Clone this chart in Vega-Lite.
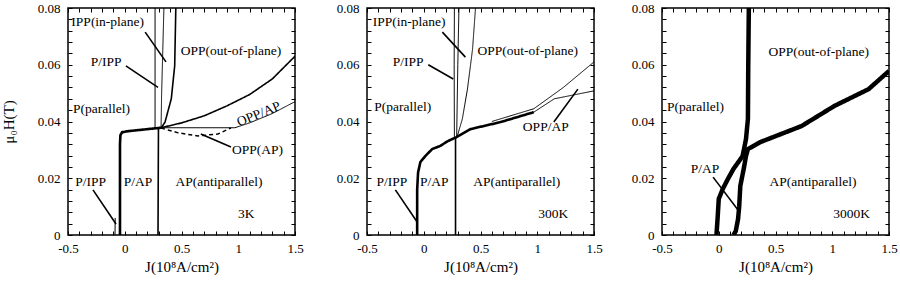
{
  "$schema": "https://vega.github.io/schema/vega-lite/v6.json",
  "background": "white",
  "padding": {"left": 0, "top": 1, "right": 0, "bottom": 0},
  "config": {
    "font": "Liberation Serif, DejaVu Serif, serif",
    "view": {"stroke": "black", "strokeWidth": 1.5},
    "text": {"font": "Liberation Serif, DejaVu Serif, serif"},
    "axis": {"labelFont": "Liberation Serif, DejaVu Serif, serif", "titleFont": "Liberation Serif, DejaVu Serif, serif", "labelColor": "black", "tickColor": "black", "titleColor": "black", "titleFontWeight": "normal", "labelOverlap": false, "labelFlush": false, "grid": false, "domain": false}
  },
  "spacing": 31,
  "datasets": {
    "lines": [
      {"p": 1, "s": "1p", "k": "thin", "J": -0.086, "H": 0},
      {"p": 1, "s": "1p", "k": "thin", "J": -0.084, "H": 0.006},
      {"p": 1, "s": "1t", "k": "thick", "J": -0.042, "H": 0},
      {"p": 1, "s": "1t", "k": "thick", "J": -0.042, "H": 0.032},
      {"p": 1, "s": "1t", "k": "thick", "J": -0.038, "H": 0.0352},
      {"p": 1, "s": "1t", "k": "thick", "J": -0.024, "H": 0.0362},
      {"p": 1, "s": "1t", "k": "thick", "J": 0.03, "H": 0.0366},
      {"p": 1, "s": "1t", "k": "thick", "J": 0.15, "H": 0.0371},
      {"p": 1, "s": "1t", "k": "thick", "J": 0.32, "H": 0.0378},
      {"p": 1, "s": "1ap", "k": "mid", "J": 0.293, "H": 0},
      {"p": 1, "s": "1ap", "k": "mid", "J": 0.297, "H": 0.0377},
      {"p": 1, "s": "1pi", "k": "thin", "J": 0.267, "H": 0.0377},
      {"p": 1, "s": "1pi", "k": "thin", "J": 0.267, "H": 0.08},
      {"p": 1, "s": "1ip", "k": "thin", "J": 0.32, "H": 0.0378},
      {"p": 1, "s": "1ip", "k": "thin", "J": 0.325, "H": 0.05},
      {"p": 1, "s": "1ip", "k": "thin", "J": 0.335, "H": 0.065},
      {"p": 1, "s": "1ip", "k": "thin", "J": 0.345, "H": 0.08},
      {"p": 1, "s": "1op", "k": "mid", "J": 0.32, "H": 0.0377},
      {"p": 1, "s": "1op", "k": "mid", "J": 0.355, "H": 0.0398},
      {"p": 1, "s": "1op", "k": "mid", "J": 0.41, "H": 0.048},
      {"p": 1, "s": "1op", "k": "mid", "J": 0.44, "H": 0.0596},
      {"p": 1, "s": "1op", "k": "mid", "J": 0.45, "H": 0.08},
      {"p": 1, "s": "1u", "k": "mid", "J": 0.32, "H": 0.0378},
      {"p": 1, "s": "1u", "k": "mid", "J": 0.5, "H": 0.0395},
      {"p": 1, "s": "1u", "k": "mid", "J": 0.7, "H": 0.042},
      {"p": 1, "s": "1u", "k": "mid", "J": 0.9, "H": 0.0455},
      {"p": 1, "s": "1u", "k": "mid", "J": 1.1, "H": 0.0495},
      {"p": 1, "s": "1u", "k": "mid", "J": 1.3, "H": 0.055},
      {"p": 1, "s": "1u", "k": "mid", "J": 1.5, "H": 0.063},
      {"p": 1, "s": "1l", "k": "thin", "J": 0.32, "H": 0.0378},
      {"p": 1, "s": "1l", "k": "thin", "J": 0.97, "H": 0.0378},
      {"p": 1, "s": "1l", "k": "thin", "J": 1.1, "H": 0.0395},
      {"p": 1, "s": "1l", "k": "thin", "J": 1.3, "H": 0.0428},
      {"p": 1, "s": "1l", "k": "thin", "J": 1.5, "H": 0.047},
      {"p": 1, "s": "1d", "k": "dash", "J": 0.32, "H": 0.0377},
      {"p": 1, "s": "1d", "k": "dash", "J": 0.47, "H": 0.036},
      {"p": 1, "s": "1d", "k": "dash", "J": 0.645, "H": 0.0349},
      {"p": 1, "s": "1d", "k": "dash", "J": 0.82, "H": 0.0356},
      {"p": 1, "s": "1d", "k": "dash", "J": 0.936, "H": 0.0377},
      {"p": 2, "s": "2t", "k": "thick", "J": -0.058, "H": 0},
      {"p": 2, "s": "2t", "k": "thick", "J": -0.058, "H": 0.016},
      {"p": 2, "s": "2t", "k": "thick", "J": -0.05, "H": 0.022},
      {"p": 2, "s": "2t", "k": "thick", "J": -0.03, "H": 0.0257},
      {"p": 2, "s": "2t", "k": "thick", "J": 0.013, "H": 0.0278},
      {"p": 2, "s": "2t", "k": "thick", "J": 0.075, "H": 0.0303},
      {"p": 2, "s": "2t", "k": "thick", "J": 0.146, "H": 0.0314},
      {"p": 2, "s": "2t", "k": "thick", "J": 0.208, "H": 0.033},
      {"p": 2, "s": "2t", "k": "thick", "J": 0.288, "H": 0.0345},
      {"p": 2, "s": "2t", "k": "thick", "J": 0.41, "H": 0.0373},
      {"p": 2, "s": "2t", "k": "thick", "J": 0.677, "H": 0.0398},
      {"p": 2, "s": "2t", "k": "thick", "J": 0.97, "H": 0.0433},
      {"p": 2, "s": "2u", "k": "thin", "J": 0.6, "H": 0.040},
      {"p": 2, "s": "2u", "k": "thin", "J": 0.97, "H": 0.0445},
      {"p": 2, "s": "2u", "k": "thin", "J": 1.23, "H": 0.052},
      {"p": 2, "s": "2u", "k": "thin", "J": 1.5, "H": 0.061},
      {"p": 2, "s": "2l", "k": "thin", "J": 0.97, "H": 0.0433},
      {"p": 2, "s": "2l", "k": "thin", "J": 1.15, "H": 0.048},
      {"p": 2, "s": "2l", "k": "thin", "J": 1.5, "H": 0.0508},
      {"p": 2, "s": "2ap", "k": "mid", "J": 0.28, "H": 0},
      {"p": 2, "s": "2ap", "k": "mid", "J": 0.28, "H": 0.0345},
      {"p": 2, "s": "2pi", "k": "thin", "J": 0.27, "H": 0.0345},
      {"p": 2, "s": "2pi", "k": "thin", "J": 0.268, "H": 0.06},
      {"p": 2, "s": "2pi", "k": "thin", "J": 0.27, "H": 0.08},
      {"p": 2, "s": "2ip", "k": "thin", "J": 0.29, "H": 0.0345},
      {"p": 2, "s": "2ip", "k": "thin", "J": 0.30, "H": 0.06},
      {"p": 2, "s": "2ip", "k": "thin", "J": 0.31, "H": 0.08},
      {"p": 2, "s": "2op", "k": "thin", "J": 0.296, "H": 0.0349},
      {"p": 2, "s": "2op", "k": "thin", "J": 0.34, "H": 0.0409},
      {"p": 2, "s": "2op", "k": "thin", "J": 0.385, "H": 0.0514},
      {"p": 2, "s": "2op", "k": "thin", "J": 0.43, "H": 0.0655},
      {"p": 2, "s": "2op", "k": "thin", "J": 0.456, "H": 0.08},
      {"p": 3, "s": "3a", "k": "band", "J": -0.02, "H": 0},
      {"p": 3, "s": "3a", "k": "band", "J": -0.01, "H": 0.006},
      {"p": 3, "s": "3a", "k": "band", "J": 0, "H": 0.0127},
      {"p": 3, "s": "3a", "k": "band", "J": 0.035, "H": 0.0162},
      {"p": 3, "s": "3a", "k": "band", "J": 0.08, "H": 0.0197},
      {"p": 3, "s": "3a", "k": "band", "J": 0.13, "H": 0.0233},
      {"p": 3, "s": "3a", "k": "band", "J": 0.21, "H": 0.0278},
      {"p": 3, "s": "3a", "k": "band", "J": 0.24, "H": 0.0338},
      {"p": 3, "s": "3a", "k": "band", "J": 0.257, "H": 0.0409},
      {"p": 3, "s": "3a", "k": "band", "J": 0.26, "H": 0.06},
      {"p": 3, "s": "3a", "k": "band", "J": 0.265, "H": 0.08},
      {"p": 3, "s": "3b", "k": "band", "J": 0.13, "H": 0},
      {"p": 3, "s": "3b", "k": "band", "J": 0.15, "H": 0.0014},
      {"p": 3, "s": "3b", "k": "band", "J": 0.17, "H": 0.0056},
      {"p": 3, "s": "3b", "k": "band", "J": 0.18, "H": 0.010},
      {"p": 3, "s": "3b", "k": "band", "J": 0.19, "H": 0.0173},
      {"p": 3, "s": "3b", "k": "band", "J": 0.22, "H": 0.0233},
      {"p": 3, "s": "3b", "k": "band", "J": 0.24, "H": 0.0278},
      {"p": 3, "s": "3b", "k": "band", "J": 0.257, "H": 0.0303},
      {"p": 3, "s": "3b", "k": "band", "J": 0.37, "H": 0.0328},
      {"p": 3, "s": "3b", "k": "band", "J": 0.73, "H": 0.0384},
      {"p": 3, "s": "3b", "k": "band", "J": 1.02, "H": 0.0455},
      {"p": 3, "s": "3b", "k": "band", "J": 1.32, "H": 0.0514},
      {"p": 3, "s": "3b", "k": "band", "J": 1.5, "H": 0.0578}
    ],
    "labels": [
      {"p": 1, "t": "IPP(in-plane)", "J": -0.15, "H": 0.075},
      {"p": 1, "t": "P/IPP", "J": -0.165, "H": 0.061},
      {"p": 1, "t": "OPP(out-of-plane)", "J": 0.936, "H": 0.065},
      {"p": 1, "t": "P(parallel)", "J": -0.205, "H": 0.0444},
      {"p": 1, "t": "OPP(AP)", "J": 1.17, "H": 0.030},
      {"p": 1, "t": "P/IPP", "J": -0.3, "H": 0.0187},
      {"p": 1, "t": "P/AP", "J": 0.117, "H": 0.0187},
      {"p": 1, "t": "AP(antiparallel)", "J": 0.83, "H": 0.0187},
      {"p": 1, "t": "3K", "J": 1.07, "H": 0.0074},
      {"p": 2, "t": "IPP(in-plane)", "J": -0.128, "H": 0.075},
      {"p": 2, "t": "OPP(out-of-plane)", "J": 0.916, "H": 0.065},
      {"p": 2, "t": "P/IPP", "J": -0.137, "H": 0.061},
      {"p": 2, "t": "P(parallel)", "J": -0.186, "H": 0.045},
      {"p": 2, "t": "OPP/AP", "J": 1.075, "H": 0.038},
      {"p": 2, "t": "P/IPP", "J": -0.28, "H": 0.0187},
      {"p": 2, "t": "P/AP", "J": 0.093, "H": 0.0187},
      {"p": 2, "t": "AP(antiparallel)", "J": 0.82, "H": 0.0187},
      {"p": 2, "t": "300K", "J": 1.14, "H": 0.0074},
      {"p": 3, "t": "OPP(out-of-plane)", "J": 0.88, "H": 0.0645},
      {"p": 3, "t": "P(parallel)", "J": -0.204, "H": 0.045},
      {"p": 3, "t": "P/AP", "J": -0.12, "H": 0.0233},
      {"p": 3, "t": "AP(antiparallel)", "J": 0.83, "H": 0.0187},
      {"p": 3, "t": "3000K", "J": 1.17, "H": 0.0074}
    ],
    "tilted": [
      {"p": 1, "t": "OPP/AP", "J": 1.18, "H": 0.0426}
    ],
    "arrows": [
      {"p": 1, "J": 0.18, "H": 0.0715, "J2": 0.363, "H2": 0.061},
      {"p": 1, "J": 0.01, "H": 0.0596, "J2": 0.293, "H2": 0.052},
      {"p": 1, "J": 0.936, "H": 0.031, "J2": 0.67, "H2": 0.0356},
      {"p": 1, "J": -0.28, "H": 0.0159, "J2": -0.077, "H2": 0.0039},
      {"p": 2, "J": 0.164, "H": 0.0715, "J2": 0.367, "H2": 0.0627},
      {"p": 2, "J": 0.04, "H": 0.06, "J2": 0.26, "H2": 0.055},
      {"p": 2, "J": 1.146, "H": 0.0398, "J2": 1.358, "H2": 0.0514},
      {"p": 2, "J": -0.25, "H": 0.0159, "J2": -0.058, "H2": 0.0046},
      {"p": 3, "J": -0.05, "H": 0.0204, "J2": 0.17, "H2": 0.0088}
    ]
  },
  "hconcat": [
    {
      "width": 227, "height": 227,
      "resolve": {"axis": {"x": "independent", "y": "independent"}},
      "layer": [
        {
          "data": {"name": "lines"},
          "transform": [{"filter": "datum.p == 1"}],
          "mark": {"type": "line", "color": "black", "clip": true},
          "encoding": {
            "x": {"field": "J", "type": "quantitative", "scale": {"domain": [-0.5, 1.5], "nice": false, "zero": false},
              "axis": {"orient": "bottom", "values": [-0.5,-0.4,-0.3,-0.2,-0.1,0,0.1,0.2,0.3,0.4,0.5,0.6,0.7,0.8,0.9,1,1.1,1.2,1.3,1.4,1.5], "labelExpr": "abs(datum.value*2-round(datum.value*2))<0.001 ? (datum.value<0 ? '-' + format(-datum.value,'~g') : format(datum.value,'~g')) : ''", "tickSize": -4, "labelPadding": 11, "labelFontSize": 13, "title": "J(10⁸A/cm²)", "titleFontSize": 15, "titlePadding": 4}},
            "y": {"field": "H", "type": "quantitative", "scale": {"domain": [0, 0.08], "nice": false},
              "axis": {"orient": "left", "values": [0,0.004,0.008,0.012,0.016,0.02,0.024,0.028,0.032,0.036,0.04,0.044,0.048,0.052,0.056,0.06,0.064,0.068,0.072,0.076,0.08], "labelExpr": "abs(datum.value*50-round(datum.value*50))<0.001 ? (datum.value==0 ? '0' : format(datum.value,'.2f')) : ''", "tickSize": -4, "labelPadding": 12, "labelFontSize": 13, "title": "μ₀H(T)", "titleFontSize": 15, "titlePadding": 21}},
            "detail": {"field": "s"},
            "strokeWidth": {"field": "k", "type": "nominal", "scale": {"type": "ordinal", "domain": ["thin", "mid", "thick", "band", "dash"], "range": [1, 1.6, 2.6, 4.5, 1.5]}, "legend": null},
            "strokeDash": {"field": "k", "type": "nominal", "scale": {"domain": ["thin", "mid", "thick", "band", "dash"], "range": [[1, 0], [1, 0], [1, 0], [1, 0], [4, 3]]}, "legend": null},
            "order": {"value": null}
          }
        },
        {
          "data": {"name": "labels"},
          "transform": [{"filter": "datum.p == 1"}],
          "mark": {"type": "text", "fontSize": 13.5, "baseline": "middle", "align": "center", "color": "black"},
          "encoding": {
            "x": {"field": "J", "type": "quantitative", "scale": {"domain": [-0.5, 1.5], "nice": false, "zero": false},
              "axis": {"orient": "top", "values": [-0.5,-0.4,-0.3,-0.2,-0.1,0,0.1,0.2,0.3,0.4,0.5,0.6,0.7,0.8,0.9,1,1.1,1.2,1.3,1.4,1.5], "labels": false, "tickSize": -4, "title": null}},
            "y": {"field": "H", "type": "quantitative", "scale": {"domain": [0, 0.08], "nice": false},
              "axis": {"orient": "right", "values": [0,0.004,0.008,0.012,0.016,0.02,0.024,0.028,0.032,0.036,0.04,0.044,0.048,0.052,0.056,0.06,0.064,0.068,0.072,0.076,0.08], "labels": false, "tickSize": -4, "title": null}},
            "text": {"field": "t"}
          }
        },
        {
          "data": {"name": "tilted"},
          "transform": [{"filter": "datum.p == 1"}],
          "mark": {"type": "text", "fontSize": 13.5, "baseline": "middle", "align": "center", "angle": 338, "color": "black"},
          "encoding": {
            "x": {"field": "J", "type": "quantitative", "scale": {"domain": [-0.5, 1.5], "nice": false, "zero": false}, "axis": null},
            "y": {"field": "H", "type": "quantitative", "scale": {"domain": [0, 0.08], "nice": false}, "axis": null},
            "text": {"field": "t"}
          }
        },
        {
          "data": {"name": "arrows"},
          "transform": [{"filter": "datum.p == 1"}],
          "mark": {"type": "rule", "color": "black", "strokeWidth": 1.6},
          "encoding": {
            "x": {"field": "J", "type": "quantitative", "scale": {"domain": [-0.5, 1.5], "nice": false, "zero": false}, "axis": null},
            "y": {"field": "H", "type": "quantitative", "scale": {"domain": [0, 0.08], "nice": false}, "axis": null},
            "x2": {"field": "J2"},
            "y2": {"field": "H2"}
          }
        }
      ]
    },
    {
      "spacing": 27,
      "hconcat": [
        {
          "width": 227, "height": 227,
          "resolve": {"axis": {"x": "independent", "y": "independent"}},
          "layer": [
            {
              "data": {"name": "lines"},
              "transform": [{"filter": "datum.p == 2"}],
              "mark": {"type": "line", "color": "black", "clip": true},
              "encoding": {
                "x": {"field": "J", "type": "quantitative", "scale": {"domain": [-0.5, 1.5], "nice": false, "zero": false},
                  "axis": {"orient": "bottom", "values": [-0.5,-0.4,-0.3,-0.2,-0.1,0,0.1,0.2,0.3,0.4,0.5,0.6,0.7,0.8,0.9,1,1.1,1.2,1.3,1.4,1.5], "labelExpr": "abs(datum.value*2-round(datum.value*2))<0.001 ? (datum.value<0 ? '-' + format(-datum.value,'~g') : format(datum.value,'~g')) : ''", "tickSize": -4, "labelPadding": 11, "labelFontSize": 13, "title": "J(10⁸A/cm²)", "titleFontSize": 15, "titlePadding": 4}},
                "y": {"field": "H", "type": "quantitative", "scale": {"domain": [0, 0.08], "nice": false},
                  "axis": {"orient": "left", "values": [0,0.004,0.008,0.012,0.016,0.02,0.024,0.028,0.032,0.036,0.04,0.044,0.048,0.052,0.056,0.06,0.064,0.068,0.072,0.076,0.08], "labelExpr": "abs(datum.value*50-round(datum.value*50))<0.001 ? (datum.value==0 ? '0' : format(datum.value,'.2f')) : ''", "tickSize": -4, "labelPadding": 12, "labelFontSize": 13, "title": null}},
                "detail": {"field": "s"},
                "strokeWidth": {"field": "k", "type": "nominal", "scale": {"type": "ordinal", "domain": ["thin", "mid", "thick", "band", "dash"], "range": [1, 1.6, 2.6, 4.5, 1.5]}, "legend": null},
                "strokeDash": {"field": "k", "type": "nominal", "scale": {"domain": ["thin", "mid", "thick", "band", "dash"], "range": [[1, 0], [1, 0], [1, 0], [1, 0], [4, 3]]}, "legend": null},
                "order": {"value": null}
              }
            },
            {
              "data": {"name": "labels"},
              "transform": [{"filter": "datum.p == 2"}],
              "mark": {"type": "text", "fontSize": 13.5, "baseline": "middle", "align": "center", "color": "black"},
              "encoding": {
                "x": {"field": "J", "type": "quantitative", "scale": {"domain": [-0.5, 1.5], "nice": false, "zero": false},
                  "axis": {"orient": "top", "values": [-0.5,-0.4,-0.3,-0.2,-0.1,0,0.1,0.2,0.3,0.4,0.5,0.6,0.7,0.8,0.9,1,1.1,1.2,1.3,1.4,1.5], "labels": false, "tickSize": -4, "title": null}},
                "y": {"field": "H", "type": "quantitative", "scale": {"domain": [0, 0.08], "nice": false},
                  "axis": {"orient": "right", "values": [0,0.004,0.008,0.012,0.016,0.02,0.024,0.028,0.032,0.036,0.04,0.044,0.048,0.052,0.056,0.06,0.064,0.068,0.072,0.076,0.08], "labels": false, "tickSize": -4, "title": null}},
                "text": {"field": "t"}
              }
            },
            {
              "data": {"name": "arrows"},
              "transform": [{"filter": "datum.p == 2"}],
              "mark": {"type": "rule", "color": "black", "strokeWidth": 1.6},
              "encoding": {
                "x": {"field": "J", "type": "quantitative", "scale": {"domain": [-0.5, 1.5], "nice": false, "zero": false}, "axis": null},
                "y": {"field": "H", "type": "quantitative", "scale": {"domain": [0, 0.08], "nice": false}, "axis": null},
                "x2": {"field": "J2"},
                "y2": {"field": "H2"}
              }
            }
          ]
        },
        {
          "width": 227, "height": 227,
          "resolve": {"axis": {"x": "independent", "y": "independent"}},
          "layer": [
            {
              "data": {"name": "lines"},
              "transform": [{"filter": "datum.p == 3"}],
              "mark": {"type": "line", "color": "black", "clip": true},
              "encoding": {
                "x": {"field": "J", "type": "quantitative", "scale": {"domain": [-0.5, 1.5], "nice": false, "zero": false},
                  "axis": {"orient": "bottom", "values": [-0.5,-0.4,-0.3,-0.2,-0.1,0,0.1,0.2,0.3,0.4,0.5,0.6,0.7,0.8,0.9,1,1.1,1.2,1.3,1.4,1.5], "labelExpr": "abs(datum.value*2-round(datum.value*2))<0.001 ? (datum.value<0 ? '-' + format(-datum.value,'~g') : format(datum.value,'~g')) : ''", "tickSize": -4, "labelPadding": 11, "labelFontSize": 13, "title": "J(10⁸A/cm²)", "titleFontSize": 15, "titlePadding": 4}},
                "y": {"field": "H", "type": "quantitative", "scale": {"domain": [0, 0.08], "nice": false},
                  "axis": {"orient": "left", "values": [0,0.004,0.008,0.012,0.016,0.02,0.024,0.028,0.032,0.036,0.04,0.044,0.048,0.052,0.056,0.06,0.064,0.068,0.072,0.076,0.08], "labelExpr": "abs(datum.value*50-round(datum.value*50))<0.001 ? (datum.value==0 ? '0' : format(datum.value,'.2f')) : ''", "tickSize": -4, "labelPadding": 12, "labelFontSize": 13, "title": null}},
                "detail": {"field": "s"},
                "strokeWidth": {"field": "k", "type": "nominal", "scale": {"type": "ordinal", "domain": ["thin", "mid", "thick", "band", "dash"], "range": [1, 1.6, 2.6, 4.5, 1.5]}, "legend": null},
                "strokeDash": {"field": "k", "type": "nominal", "scale": {"domain": ["thin", "mid", "thick", "band", "dash"], "range": [[1, 0], [1, 0], [1, 0], [1, 0], [4, 3]]}, "legend": null},
                "order": {"value": null}
              }
            },
            {
              "data": {"name": "labels"},
              "transform": [{"filter": "datum.p == 3"}],
              "mark": {"type": "text", "fontSize": 13.5, "baseline": "middle", "align": "center", "color": "black"},
              "encoding": {
                "x": {"field": "J", "type": "quantitative", "scale": {"domain": [-0.5, 1.5], "nice": false, "zero": false},
                  "axis": {"orient": "top", "values": [-0.5,-0.4,-0.3,-0.2,-0.1,0,0.1,0.2,0.3,0.4,0.5,0.6,0.7,0.8,0.9,1,1.1,1.2,1.3,1.4,1.5], "labels": false, "tickSize": -4, "title": null}},
                "y": {"field": "H", "type": "quantitative", "scale": {"domain": [0, 0.08], "nice": false},
                  "axis": {"orient": "right", "values": [0,0.004,0.008,0.012,0.016,0.02,0.024,0.028,0.032,0.036,0.04,0.044,0.048,0.052,0.056,0.06,0.064,0.068,0.072,0.076,0.08], "labels": false, "tickSize": -4, "title": null}},
                "text": {"field": "t"}
              }
            },
            {
              "data": {"name": "arrows"},
              "transform": [{"filter": "datum.p == 3"}],
              "mark": {"type": "rule", "color": "black", "strokeWidth": 1.6},
              "encoding": {
                "x": {"field": "J", "type": "quantitative", "scale": {"domain": [-0.5, 1.5], "nice": false, "zero": false}, "axis": null},
                "y": {"field": "H", "type": "quantitative", "scale": {"domain": [0, 0.08], "nice": false}, "axis": null},
                "x2": {"field": "J2"},
                "y2": {"field": "H2"}
              }
            }
          ]
        }
      ]
    }
  ]
}
